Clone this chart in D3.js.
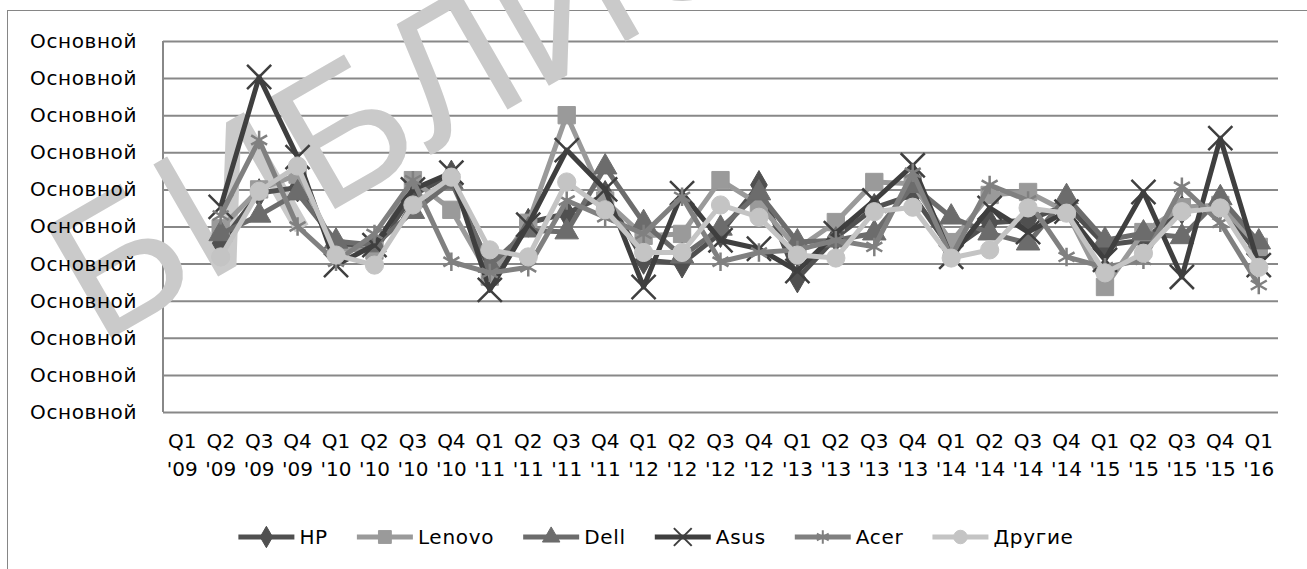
<!DOCTYPE html>
<html><head><meta charset="utf-8">
<script src="https://cdn.jsdelivr.net/npm/d3@7/dist/d3.min.js"></script>
<style>
html,body{margin:0;padding:0;background:#fff;}
text{font-family:"DejaVu Sans",sans-serif;}
</style></head>
<body>
<svg id="chart" width="1307" height="569"></svg>
<script>
const quarters = ["Q1","Q2","Q3","Q4","Q1","Q2","Q3","Q4","Q1","Q2","Q3","Q4","Q1","Q2","Q3","Q4","Q1","Q2","Q3","Q4","Q1","Q2","Q3","Q4","Q1","Q2","Q3","Q4","Q1"];
const years = ["'09","'09","'09","'09","'10","'10","'10","'10","'11","'11","'11","'11","'12","'12","'12","'12","'13","'13","'13","'13","'14","'14","'14","'14","'15","'15","'15","'15","'16"];
const categories = quarters.map((q,i)=>q+" "+years[i]);
const yTickValues = [0,1,2,3,4,5,6,7,8,9,10];
const yTickLabels = ["Основной","Основной","Основной","Основной","Основной","Основной","Основной","Основной","Основной","Основной","Основной"];

const seriesNames = ["HP","Lenovo","Dell","Asus","Acer","Другие"];
const hp     = [null,4.55,5.9,6.05,4.5,4.35,5.85,6.4,3.6,5.1,5.35,5.85,4.1,4.0,4.82,6.12,3.6,4.7,5.5,5.85,4.37,5.1,5.17,5.58,4.5,4.63,5.45,5.58,4.23];
const lenovo = [null,4.95,6.0,6.4,4.4,4.35,6.25,5.45,3.65,5.1,8.0,5.7,4.75,4.8,6.25,5.6,4.4,5.12,6.2,6.15,4.58,5.85,5.93,5.4,3.37,4.85,5.52,5.58,4.45];
const dell   = [null,4.8,5.3,5.9,4.6,4.5,5.4,6.2,3.95,4.9,4.85,6.6,5.1,4.2,4.95,5.9,4.58,4.63,4.82,6.1,5.25,4.82,4.55,5.8,4.63,4.82,4.72,5.77,4.58];
const asus   = [null,5.53,9.03,6.87,3.96,4.5,6.0,6.45,3.29,5.05,7.06,6.0,3.37,5.9,4.63,4.4,3.8,4.82,5.7,6.65,4.18,5.5,4.85,5.4,4.1,5.93,3.64,7.38,3.96];
const acer   = [null,5.3,7.33,5.0,4.05,4.8,6.25,4.05,3.75,3.9,5.7,5.25,4.8,5.8,4.05,4.3,4.37,4.63,4.45,6.45,4.18,6.12,5.7,4.18,3.9,4.1,6.07,5.1,3.42];
const others = [null,4.18,5.95,6.63,4.23,3.96,5.58,6.33,4.37,4.18,6.2,5.45,4.3,4.3,5.58,5.25,4.23,4.15,5.4,5.52,4.15,4.37,5.5,5.36,3.75,4.28,5.4,5.5,3.9];
const seriesValues = [hp,lenovo,dell,asus,acer,others];
const watermarkText = "БИБЛИОТЕКА";

const colors = ["#505050","#9a9a9a","#6c6c6c","#3f3f3f","#808080","#c4c4c4"];
const symbolTypes = [d3.symbolDiamond, d3.symbolSquare, d3.symbolTriangle, d3.symbolTimes || d3.symbolX, d3.symbolAsterisk, d3.symbolCircle];
const symbolSizes = [240, 300, 240, 380, 240, 260];
const strokeSymbols = [false,false,false,true,true,false];

const svg = d3.select("#chart");
const plot = {left:163, right:1278, top:41, bottom:412};

// chart border
svg.append("rect").attr("x",7.5).attr("y",10.5).attr("width",1310).attr("height",600)
  .attr("fill","#fff").attr("stroke","#868686").attr("stroke-width",1);

const x = d3.scaleBand().domain(categories).range([plot.left, plot.right]).padding(0);
const y = d3.scaleLinear().domain([0,10]).range([plot.bottom, plot.top]);
const cx = c => x(c) + x.bandwidth()/2;

// gridlines
const grid = svg.append("g").attr("transform",`translate(${plot.left},0)`)
  .call(d3.axisLeft(y).tickValues(yTickValues).tickSize(-(plot.right-plot.left)).tickFormat(""));
grid.select(".domain").remove();
grid.selectAll("line").attr("stroke","#888888").attr("stroke-width",2);

// left axis line
svg.append("line").attr("x1",plot.left).attr("x2",plot.left).attr("y1",plot.top).attr("y2",plot.bottom)
  .attr("stroke","#888888").attr("stroke-width",2);

// watermark
svg.append("text").text(watermarkText)
  .attr("transform","translate(98,346) rotate(-30)")
  .attr("font-size",188).attr("fill","#cacaca")
  .style("font-family","'Liberation Sans',sans-serif");

// y axis labels
const yAxis = svg.append("g").attr("transform",`translate(${plot.left},0)`)
  .call(d3.axisLeft(y).tickValues(yTickValues).tickSize(0).tickPadding(26)
    .tickFormat((d,i)=>yTickLabels[i]));
yAxis.select(".domain").remove();
yAxis.selectAll("text").attr("font-size",20).attr("fill","#000")
  .style("font-family","'DejaVu Sans',sans-serif").style("letter-spacing","0.6px");

// x axis labels (two lines)
const xAxis = svg.append("g").attr("transform",`translate(0,${plot.bottom})`)
  .call(d3.axisBottom(x).tickSize(0).tickFormat(""));
xAxis.select(".domain").remove();
xAxis.selectAll(".tick").each(function(d,i){
  const t = d3.select(this).append("text").attr("fill","#000").attr("font-size",20)
    .attr("text-anchor","middle").style("font-family","'DejaVu Sans',sans-serif");
  t.append("tspan").attr("x",0).attr("y",36).text(quarters[i]);
  t.append("tspan").attr("x",0).attr("y",64).text(years[i]);
});

// series
const line = d3.line().defined(d=>d.v!=null).x(d=>cx(d.c)).y(d=>y(d.v));
seriesValues.forEach((vals,si)=>{
  const data = vals.map((v,i)=>({c:categories[i], v}));
  const g = svg.append("g");
  g.append("path").datum(data).attr("d",line).attr("fill","none")
    .attr("stroke",colors[si]).attr("stroke-width",5).attr("stroke-linejoin","round");
  const sym = d3.symbol().type(symbolTypes[si]).size(symbolSizes[si]);
  g.selectAll("path.m").data(data.filter(d=>d.v!=null)).join("path").attr("class","m")
    .attr("transform",d=>`translate(${cx(d.c)},${y(d.v)})`)
    .attr("d",sym)
    .attr("fill",strokeSymbols[si]?"none":colors[si])
    .attr("stroke",colors[si]).attr("stroke-width",strokeSymbols[si]?2.5:1);
});

// legend
const legend = svg.append("g");
const legY = 537, lineLen = 56, gapText = 5, gapItem = 29;
let xpos = 0;
seriesNames.forEach((name,si)=>{
  const g = legend.append("g");
  g.append("line").attr("x1",0).attr("x2",lineLen).attr("y1",0).attr("y2",0)
    .attr("stroke",colors[si]).attr("stroke-width",5);
  const sym = d3.symbol().type(symbolTypes[si]).size(symbolSizes[si]*0.55);
  g.append("path").attr("transform",`translate(${lineLen/2},0)`).attr("d",sym)
    .attr("fill",strokeSymbols[si]?"none":colors[si]).attr("stroke",colors[si])
    .attr("stroke-width",strokeSymbols[si]?2:1);
  const t = g.append("text").attr("x",lineLen+gapText).attr("y",0).attr("dy","0.35em")
    .attr("font-size",20).attr("fill","#000").style("letter-spacing","0.7px").text(name);
  const w = lineLen + gapText + t.node().getComputedTextLength();
  g.attr("transform",`translate(${xpos},${legY})`);
  xpos += w + gapItem;
});
const totalW = xpos - gapItem;
legend.attr("transform",`translate(${656 - totalW/2},0)`);
</script>
</body></html>
